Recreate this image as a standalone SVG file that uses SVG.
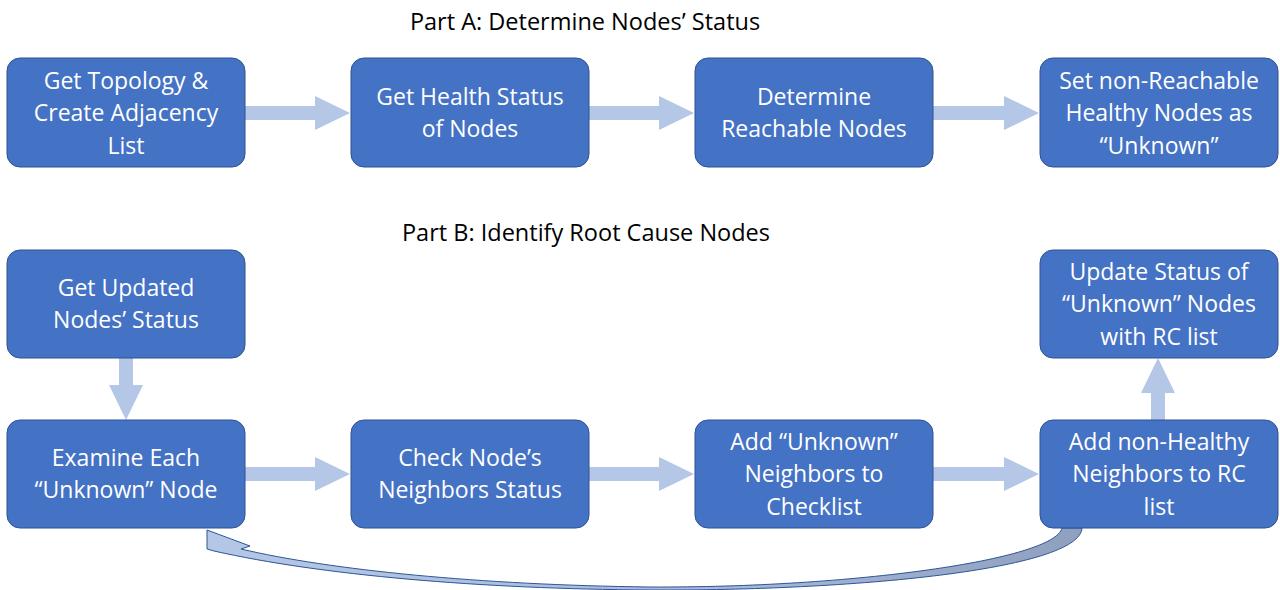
<svg xmlns="http://www.w3.org/2000/svg" width="1280" height="590" viewBox="0 0 1280 590">
<style>
.box{fill:#4472C4;stroke:#2F528F;stroke-width:1}
.t{font-family:"Open Sans","Liberation Sans",sans-serif;font-size:23px;fill:#FFFFFF;text-anchor:middle}
.title{font-family:"Open Sans","Liberation Sans",sans-serif;font-size:23.5px;fill:#000000;text-anchor:middle}
.arr{fill:#B4C7E7}
</style>
<defs>
<linearGradient id="cg" x1="0" y1="0" x2="1" y2="0">
<stop offset="0" stop-color="#B4C7E7"/>
<stop offset="0.55" stop-color="#A9BBDB"/>
<stop offset="1" stop-color="#8FA0BF"/>
</linearGradient>
</defs>
<rect width="1280" height="590" fill="#FFFFFF"/>
<text class="title" x="585" y="30">Part A: Determine Nodes’ Status</text>
<text class="title" x="586" y="241">Part B: Identify Root Cause Nodes</text>
<g id="connectors">
<path class="arr" d="M245,106 H315 V96 L350,113 L315,130 V120 H245 Z"/>
<path class="arr" d="M589,106 H659 V96 L694,113 L659,130 V120 H589 Z"/>
<path class="arr" d="M933,106 H1004 V96 L1039,113 L1004,130 V120 H933 Z"/>
<path class="arr" d="M245,467 H315 V457 L350,474 L315,491 V481 H245 Z"/>
<path class="arr" d="M589,467 H659 V457 L694,474 L659,491 V481 H589 Z"/>
<path class="arr" d="M933,467 H1004 V457 L1039,474 L1004,491 V481 H933 Z"/>
<path class="arr" d="M119,358 V385 H109 L126,420 L143,385 H133 V358 Z"/>
<path class="arr" d="M1151,420 V393 H1141 L1158,358 L1175,393 H1165 V420 Z"/>
<path fill="url(#cg)" stroke="#2F5597" stroke-width="1" d="M207,530 L250,546 L241,549 C330,570 480,585 650,587 C850,588 1055,560 1062,528 L1082,528 C1080,570 850,591 650,590 C480,589 320,575 214,551 L207,549 Z"/>
</g>
<g id="n1"><rect class="box" x="7" y="58" width="238" height="109" rx="13"/>
<text class="t" x="126" y="89">Get Topology &amp;</text><text class="t" x="126" y="121">Create Adjacency</text><text class="t" x="126" y="154">List</text></g>
<g id="n2"><rect class="box" x="351" y="58" width="238" height="109" rx="13"/>
<text class="t" x="470" y="105">Get Health Status</text><text class="t" x="470" y="137">of Nodes</text></g>
<g id="n3"><rect class="box" x="695" y="58" width="238" height="109" rx="13"/>
<text class="t" x="814" y="105">Determine</text><text class="t" x="814" y="137">Reachable Nodes</text></g>
<g id="n4"><rect class="box" x="1040" y="58" width="238" height="109" rx="13"/>
<text class="t" x="1159" y="89">Set non-Reachable</text><text class="t" x="1159" y="121">Healthy Nodes as</text><text class="t" x="1159" y="154">“Unknown”</text></g>
<g id="n5"><rect class="box" x="7" y="250" width="238" height="108" rx="13"/>
<text class="t" x="126" y="296">Get Updated</text><text class="t" x="126" y="328">Nodes’ Status</text></g>
<g id="n6"><rect class="box" x="1040" y="250" width="238" height="108" rx="13"/>
<text class="t" x="1159" y="280">Update Status of</text><text class="t" x="1159" y="312">“Unknown” Nodes</text><text class="t" x="1159" y="345">with RC list</text></g>
<g id="n7"><rect class="box" x="7" y="420" width="238" height="108" rx="13"/>
<text class="t" x="126" y="466">Examine Each</text><text class="t" x="126" y="498">“Unknown” Node</text></g>
<g id="n8"><rect class="box" x="351" y="420" width="238" height="108" rx="13"/>
<text class="t" x="470" y="466">Check Node’s</text><text class="t" x="470" y="498">Neighbors Status</text></g>
<g id="n9"><rect class="box" x="695" y="420" width="238" height="108" rx="13"/>
<text class="t" x="814" y="450">Add “Unknown”</text><text class="t" x="814" y="482">Neighbors to</text><text class="t" x="814" y="515">Checklist</text></g>
<g id="n10"><rect class="box" x="1040" y="420" width="238" height="108" rx="13"/>
<text class="t" x="1159" y="450">Add non-Healthy</text><text class="t" x="1159" y="482">Neighbors to RC</text><text class="t" x="1159" y="515">list</text></g>
</svg>
